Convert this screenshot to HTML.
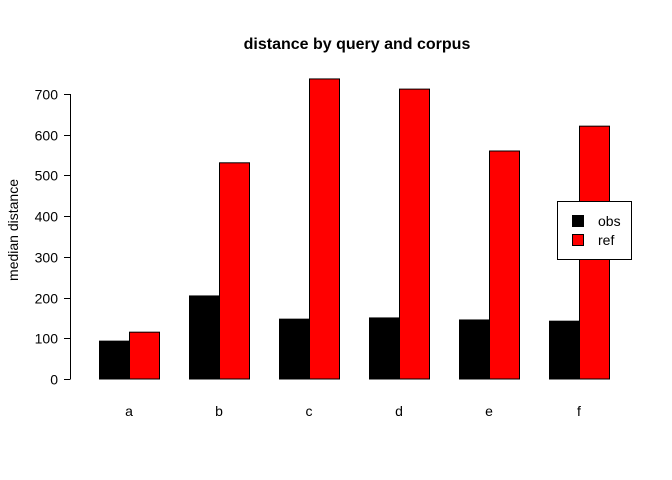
<!DOCTYPE html>
<html><head><meta charset="utf-8"><style>
body{margin:0;background:#fff;}
svg{display:block;font-family:"Liberation Sans",Arial,sans-serif;}
</style></head><body>
<svg id="chart" width="672" height="480" viewBox="0 0 672 480" xmlns="http://www.w3.org/2000/svg">
<text x="357" y="49" text-anchor="middle" font-size="16" font-weight="bold">distance by query and corpus</text>
<text transform="translate(18,230) rotate(-90)" text-anchor="middle" font-size="14">median distance</text>
<g id="bars"></g>
<g id="yaxis"></g>
<g id="xlabels"></g>
<g>
<rect x="557.5" y="201.5" width="74" height="58" fill="#fff" stroke="#000"/>
<rect x="572.5" y="215.5" width="11" height="11" fill="#000" stroke="#000"/>
<text x="598" y="226" font-size="14">obs</text>
<rect x="572.5" y="234.5" width="11" height="11" fill="#ff0000" stroke="#000"/>
<text x="598" y="245" font-size="14">ref</text>
</g>
</svg>
<script>
const categories = ["a","b","c","d","e","f"];
const obsValues = [93, 204, 147, 150, 145, 142];
const refValues = [115, 531, 737, 712, 560, 621];
const yTicks = [0,100,200,300,400,500,600,700];

const NS="http://www.w3.org/2000/svg";
const y0=379, pxPer=285/700;
const yS=v=>y0-v*pxPer;
const groupX=i=>99+i*90, barW=30;
function mk(t,a,p){const e=document.createElementNS(NS,t);for(const k in a)e.setAttribute(k,a[k]);p.appendChild(e);return e;}
const bars=document.getElementById('bars');
categories.forEach((c,i)=>{
  const x=groupX(i);
  let r=mk('rect',{x:x+0.5,y:yS(obsValues[i]),width:barW,height:y0-yS(obsValues[i]),fill:'#000',stroke:'#000'},bars);
  
  
  r=mk('rect',{x:x+barW+0.5,y:yS(refValues[i]),width:barW,height:y0-yS(refValues[i]),fill:'#ff0000',stroke:'#000'},bars);
  
  
  const t=mk('text',{x:x+barW,y:416,'text-anchor':'middle','font-size':14},document.getElementById('xlabels'));
  t.textContent=c;
  
  
});
const ya=document.getElementById('yaxis');
const ax=mk('line',{x1:70.5,x2:70.5,y1:yS(yTicks[0]),y2:yS(yTicks[yTicks.length-1]),stroke:'#000'},ya);


yTicks.forEach(v=>{
  const y=Math.round(yS(v))+0.5;
  const l=mk('line',{x1:64,x2:70.5,y1:y,y2:y,stroke:'#000'},ya);
  
  
  const t=mk('text',{x:58,y:y+5,'text-anchor':'end','font-size':14},ya);
  t.textContent=v;
  
  
});
</script>
</body></html>
